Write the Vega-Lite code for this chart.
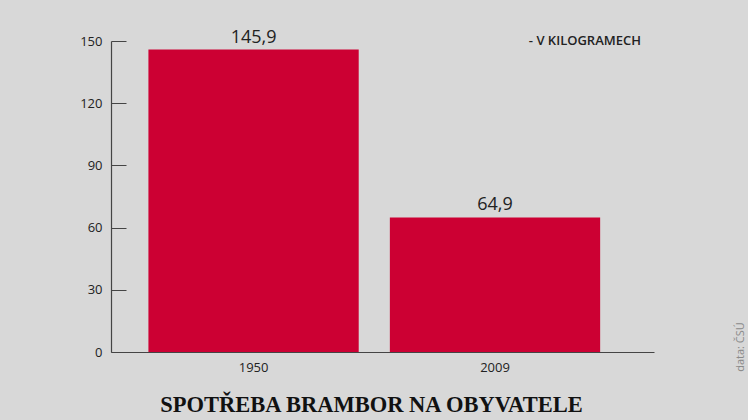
{
  "$schema": "https://vega.github.io/schema/vega-lite/v6.json",
  "autosize": {"type": "none"},
  "padding": {"left": 111, "top": 41, "right": 94, "bottom": 68},
  "width": 543,
  "height": 311,
  "background": "#d8d8d8",
  "config": {
    "view": {"stroke": null},
    "locale": {"number": {"decimal": ",", "thousands": " ", "grouping": [3], "currency": ["", " Kč"]}},
    "font": "Open Sans"
  },
  "title": {
    "text": "SPOTŘEBA BRAMBOR NA OBYVATELE",
    "orient": "bottom",
    "anchor": "middle",
    "dx": -11,
    "offset": 20,
    "font": "Liberation Serif",
    "fontSize": 22.5,
    "fontWeight": "bold",
    "color": "#111111"
  },
  "data": {
    "values": [
      {"year": "1950", "value": 145.9},
      {"year": "2009", "value": 64.9}
    ]
  },
  "layer": [
    {
      "mark": {"type": "bar", "color": "#cc0033"},
      "encoding": {
        "x": {
          "field": "year",
          "type": "nominal",
          "scale": {"paddingInner": 0.129, "paddingOuter": 0.189, "align": 0.41},
          "axis": {
            "title": null,
            "labelAngle": 0,
            "labelFontSize": 13,
            "labelColor": "#222222",
            "labelPadding": 9,
            "ticks": false,
            "domainColor": "#444444",
            "domainWidth": 1.2
          }
        },
        "y": {
          "field": "value",
          "type": "quantitative",
          "scale": {"domain": [0, 150], "nice": false},
          "axis": {
            "title": null,
            "values": [0, 30, 60, 90, 120, 150],
            "grid": false,
            "labelFontSize": 13,
            "labelColor": "#222222",
            "labelPadding": 24,
            "tickSize": -15,
            "tickColor": "#444444",
            "domainColor": "#444444",
            "domainWidth": 1.2
          }
        }
      }
    },
    {
      "mark": {"type": "text", "baseline": "bottom", "dy": -3, "fontSize": 18, "fontWeight": 500, "color": "#222222"},
      "encoding": {
        "x": {"field": "year", "type": "nominal"},
        "y": {"field": "value", "type": "quantitative"},
        "text": {"field": "value", "type": "quantitative", "format": ".1f"}
      }
    },
    {
      "data": {"values": [{"year": "2009", "value": 150, "note": "- V KILOGRAMECH"}]},
      "mark": {"type": "text", "align": "right", "baseline": "middle", "dx": 146, "fontSize": 13, "fontWeight": 600, "color": "#222222"},
      "encoding": {
        "x": {"field": "year", "type": "nominal"},
        "y": {"field": "value", "type": "quantitative"},
        "text": {"field": "note"}
      }
    },
    {
      "data": {"values": [{"year": "2009", "value": 0, "note": "data: ČSÚ"}]},
      "mark": {"type": "text", "align": "center", "baseline": "middle", "angle": 270, "dx": 5, "dy": 246, "fontSize": 11, "color": "#8a8a8a"},
      "encoding": {
        "x": {"field": "year", "type": "nominal"},
        "y": {"field": "value", "type": "quantitative"},
        "text": {"field": "note"}
      }
    }
  ]
}
